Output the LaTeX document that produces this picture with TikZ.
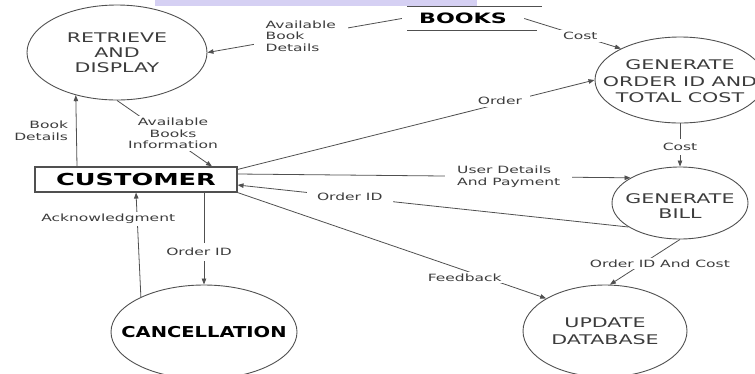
\documentclass[tikz,border=0pt]{standalone}
\usepackage{fontspec}
\setmainfont{DejaVu Sans}[FakeStretch=1.55]
\newfontfamily\widebold{DejaVu Sans Bold}[FakeStretch=1.55]
\newfontfamily\midbold{DejaVu Sans Bold}[FakeStretch=1.3]
\usetikzlibrary{shapes.geometric,arrows.meta}
\definecolor{ln}{HTML}{505050}
\definecolor{tx}{HTML}{3C3C3C}
\definecolor{wm}{RGB}{213,208,243}
\begin{document}
\begin{tikzpicture}[x=1pt,y=-1pt,
  proc/.style={ellipse, draw=ln, line width=0.9pt, inner sep=0pt},
  ttl/.style={text=tx, align=center, inner sep=0pt, font=\fontsize{13.3}{15}\selectfont},
  lbl/.style={text=tx, align=center, font=\fontsize{10}{11.5}\selectfont, fill=white, inner sep=2pt},
  flow/.style={draw=ln, line width=0.8pt, -{Triangle[length=6pt,width=4.5pt]}},
  storeline/.style={draw=ln, line width=0.9pt}]
\useasboundingbox (0,0) rectangle (755,373);
\fill[wm] (155,0) rectangle (477,6);
% processes
\node[proc, minimum width=180pt, minimum height=95pt] (ret) at (117,52.5) {};
\node[ttl] (retT) at (ret) {RETRIEVE\\AND\\DISPLAY};
\node[proc, minimum width=170pt, minimum height=86pt] (gord) at (680,80) {};
\node[ttl, font=\fontsize{13.3}{16.5}\selectfont] (gordT) at ([yshift=-1.5pt]gord.center) {GENERATE\\ORDER ID AND\\TOTAL COST};
\node[proc, minimum width=136pt, minimum height=72pt] (bill) at (680,203) {};
\node[ttl] (billT) at ([yshift=-3pt]bill.center) {GENERATE\\BILL};
\node[proc, minimum width=164pt, minimum height=92pt] (udb) at (605,331) {};
\node[ttl, font=\fontsize{13.3}{16.5}\selectfont] (udbT) at (udb) {UPDATE\\DATABASE};
\node[proc, minimum width=186pt, minimum height=94pt] (canc) at (204,332) {};
\node[inner sep=0pt, font=\midbold\fontsize{15}{17}\selectfont] (cancT) at (canc) {CANCELLATION};
% entity
\node[draw=ln, line width=1.1pt, minimum width=202pt, minimum height=25pt, inner sep=0pt,
      font=\widebold\fontsize{16.5}{18}\selectfont] (cust) at (136,179.5) {CUSTOMER};
% data store
\node[minimum width=122pt, minimum height=23pt, inner sep=0pt,
      font=\widebold\fontsize{14.3}{16}\selectfont] (books) at (463,18.5) {BOOKS};
\draw[storeline] ([xshift=-56pt]books.north) -- ([xshift=79pt]books.north);
\draw[storeline] ([xshift=-56pt]books.south) -- ([xshift=74pt]books.south);
% flows
\draw[flow] ([xshift=-59pt]cust.north) -- node[lbl, left, fill=none, align=right, xshift=-6pt] {Book\\Details} (ret.226.7);
\draw[flow] (ret.south) -- node[lbl, pos=0.59, yshift=6pt] {Available\\Books\\Information} ([xshift=76pt]cust.north);
\draw[flow] (books.west) -- node[lbl, pos=0.52, align=left, inner xsep=12pt] {Available\\Book\\Details} (ret.east);
\draw[flow] (books.east) -- node[lbl, pos=0.58, inner xsep=5pt] {Cost} (gord.152.7);
\draw[flow] ([yshift=-3pt]cust.north east) -- node[lbl, pos=0.735, yshift=3pt, inner xsep=8pt] {Order} (gord.west);
\draw[flow] ([yshift=5.5pt]cust.east) -- node[lbl, pos=0.69, align=left, inner xsep=12pt] {User Details\\And Payment} (bill.153.4);
\draw[flow] (bill.205.7) -- node[lbl, pos=0.713, inner xsep=10pt] {Order ID} ([yshift=-5.5pt]cust.east);
\draw[flow] (cust.south east) -- node[lbl, pos=0.736, yshift=-7pt] {Feedback} (udb.151.5);
\draw[flow] (bill.south) -- node[lbl, pos=0.53, xshift=17pt] {Order ID And Cost} (udb.84);
\draw[flow] (gord.south) -- node[lbl, pos=0.545, inner ysep=4pt] {Cost} (bill.north);
\draw[flow] ([xshift=68pt]cust.south) -- node[lbl, pos=0.645, xshift=-5pt, inner ysep=5pt] {Order ID} (canc.north);
\draw[flow] (canc.151.7) -- node[lbl, pos=0.75, xshift=-29pt] {Acknowledgment} (cust.south);
\end{tikzpicture}
\end{document}
